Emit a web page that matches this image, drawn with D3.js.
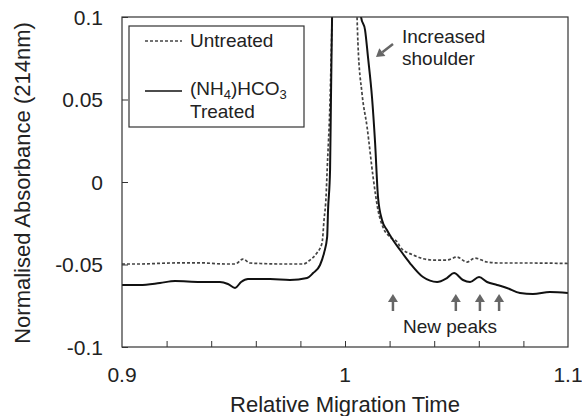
<!DOCTYPE html>
<html><head><meta charset="utf-8">
<script src="https://cdn.jsdelivr.net/npm/d3@7"></script>
<style>body{margin:0;background:#fff}text{font-family:"Liberation Sans",Arial,sans-serif;fill:#222}</style>
</head><body>
<script>
// Untreated (dashed)
const untreatedX = [0.900,0.908,0.9215,0.935,0.946,0.9507,0.9543,0.9574,0.962,0.971,0.9812,0.9843,0.9874,0.9897,0.9906,0.9915,0.992,0.9933,0.9942,1.000,1.0054,1.0058,1.0076,1.0099,1.0126,1.0148,1.017,1.0202,1.0238,1.0247,1.0305,1.0395,1.0457,1.0502,1.0547,1.0583,1.0637,1.0695,1.0843,1.100];
const untreatedY = [-0.0497,-0.0497,-0.0491,-0.049,-0.0497,-0.0497,-0.0467,-0.0491,-0.0494,-0.0497,-0.0497,-0.0473,-0.043,-0.037,-0.023,-0.009,0.0073,0.0497,0.1,0.6,0.1,0.0842,0.054,0.0333,0.003,-0.017,-0.0273,-0.0333,-0.037,-0.0394,-0.0442,-0.0473,-0.0473,-0.0455,-0.0485,-0.0461,-0.0485,-0.0491,-0.0491,-0.0494];
// (NH4)HCO3 treated (solid)
const treatedX = [0.900,0.908,0.917,0.9238,0.935,0.9439,0.9475,0.9507,0.9534,0.9565,0.9664,0.9753,0.983,0.9857,0.9888,0.9906,0.992,0.9924,0.9933,0.9937,0.9942,1.000,1.0072,1.009,1.0103,1.0121,1.0135,1.0148,1.0166,1.0188,1.0215,1.0247,1.0291,1.035,1.0413,1.0457,1.0489,1.0529,1.0561,1.0601,1.0637,1.0682,1.0726,1.0785,1.0843,1.0919,1.100];
const treatedY = [-0.0624,-0.0624,-0.0612,-0.060,-0.0606,-0.0606,-0.0618,-0.0642,-0.0606,-0.0588,-0.0588,-0.0594,-0.0582,-0.0552,-0.0503,-0.043,-0.0333,-0.017,0.0073,0.0497,0.1,0.6,0.1,0.0921,0.0758,0.0515,0.0236,-0.0091,-0.023,-0.0291,-0.0352,-0.0412,-0.0491,-0.0576,-0.0606,-0.0582,-0.0552,-0.0594,-0.0606,-0.0576,-0.0606,-0.0624,-0.0642,-0.0673,-0.0679,-0.0667,-0.0673];
const yTicks = [-0.1,-0.05,0,0.05,0.1];
const yTickLabels = ["-0.1","-0.05","0","0.05","0.1"];
const xLabelTicks = [0.9,1.0,1.1];
const xLabels = ["0.9","1","1.1"];
const xMinorTicks = [0.92,0.94,0.96,0.98,1.0,1.02,1.04,1.06,1.08];
const newPeakX = [1.0215,1.0497,1.0605,1.0691];

const W=582,H=416, L=122,R=568,T=17,B=347;
const svg=d3.select("body").append("svg").attr("width",W).attr("height",H);
const x=d3.scaleLinear().domain([0.9,1.1]).range([L,R]);
const y=d3.scaleLinear().domain([-0.1,0.1]).range([B,T]);

svg.append("defs").append("clipPath").attr("id","clip").append("rect")
  .attr("x",L).attr("y",T).attr("width",R-L).attr("height",B-T);

const line=d3.line().x(d=>x(d[0])).y(d=>y(d[1])).curve(d3.curveMonotoneX);
const g=svg.append("g").attr("clip-path","url(#clip)");
g.append("path").datum(untreatedX.map((v,i)=>[v,untreatedY[i]])).attr("d",line)
  .attr("fill","none").attr("stroke","#444").attr("stroke-width",1.7).attr("stroke-dasharray","3,2");
g.append("path").datum(treatedX.map((v,i)=>[v,treatedY[i]])).attr("d",line)
  .attr("fill","none").attr("stroke","#111").attr("stroke-width",2);

// frame
svg.append("rect").attr("x",L).attr("y",T).attr("width",R-L).attr("height",B-T)
  .attr("fill","none").attr("stroke","#333").attr("stroke-width",1.2);

// axes ticks (inward)
const ax=svg.append("g").attr("transform",`translate(0,${B})`)
  .call(d3.axisBottom(x).tickValues(xMinorTicks).tickSize(-6).tickFormat(""));
ax.select(".domain").remove();
ax.selectAll("line").attr("stroke","#333");
const ay=svg.append("g").attr("transform",`translate(${L},0)`)
  .call(d3.axisLeft(y).tickValues(yTicks).tickSize(-6).tickFormat(""));
ay.select(".domain").remove();
ay.selectAll("line").attr("stroke","#333");

// tick labels
svg.selectAll(".yl").data(yTicks).enter().append("text")
  .attr("x",103).attr("y",d=>y(d)+7.5).attr("text-anchor","end").attr("font-size",21)
  .text((d,i)=>yTickLabels[i]);
svg.selectAll(".xl").data(xLabelTicks).enter().append("text")
  .attr("x",d=>x(d)).attr("y",382).attr("text-anchor","middle").attr("font-size",21)
  .text((d,i)=>xLabels[i]);
svg.append("text").attr("x",(L+R)/2).attr("y",412).attr("text-anchor","middle")
  .attr("font-size",22).text("Relative Migration Time");
svg.append("text").attr("transform",`translate(30,${(T+B)/2+1}) rotate(-90)`)
  .attr("text-anchor","middle").attr("font-size",22).text("Normalised Absorbance (214nm)");

// legend
const lg=svg.append("g");
lg.append("rect").attr("x",129).attr("y",26).attr("width",175).attr("height",101)
  .attr("fill","#fff").attr("stroke","#333").attr("stroke-width",1.2);
lg.append("line").attr("x1",145).attr("x2",182).attr("y1",41).attr("y2",41)
  .attr("stroke","#444").attr("stroke-width",1.6).attr("stroke-dasharray","3,2");
lg.append("text").attr("x",190).attr("y",47).attr("font-size",19).text("Untreated");
lg.append("line").attr("x1",145).attr("x2",182).attr("y1",91).attr("y2",91)
  .attr("stroke","#111").attr("stroke-width",1.5);
const t2=lg.append("text").attr("x",190).attr("y",95).attr("font-size",19);
t2.append("tspan").text("(NH");
t2.append("tspan").attr("font-size",13).attr("dy",4).text("4");
t2.append("tspan").attr("dy",-4).text(")HCO");
t2.append("tspan").attr("font-size",13).attr("dy",4).text("3");
lg.append("text").attr("x",190).attr("y",118).attr("font-size",19).text("Treated");

// annotations
const arrowCol="#666";
function arrow(x1,y1,x2,y2){
  const a=Math.atan2(y2-y1,x2-x1), hl=8, hw=5;
  const bx=x2-hl*Math.cos(a), by=y2-hl*Math.sin(a);
  svg.append("line").attr("x1",x1).attr("y1",y1).attr("x2",bx).attr("y2",by)
    .attr("stroke",arrowCol).attr("stroke-width",2.5);
  svg.append("path").attr("d",`M${x2},${y2}L${bx+hw*Math.sin(a)},${by-hw*Math.cos(a)}L${bx-hw*Math.sin(a)},${by+hw*Math.cos(a)}Z`)
    .attr("fill",arrowCol);
}
arrow(393,44,376,57);
svg.append("text").attr("x",402).attr("y",43).attr("font-size",19).text("Increased");
svg.append("text").attr("x",402).attr("y",65).attr("font-size",19).text("shoulder");
newPeakX.forEach(v=>arrow(x(v),311,x(v),294));
svg.append("text").attr("x",450).attr("y",333).attr("text-anchor","middle").attr("font-size",19).text("New peaks");
</script>
</body></html>
